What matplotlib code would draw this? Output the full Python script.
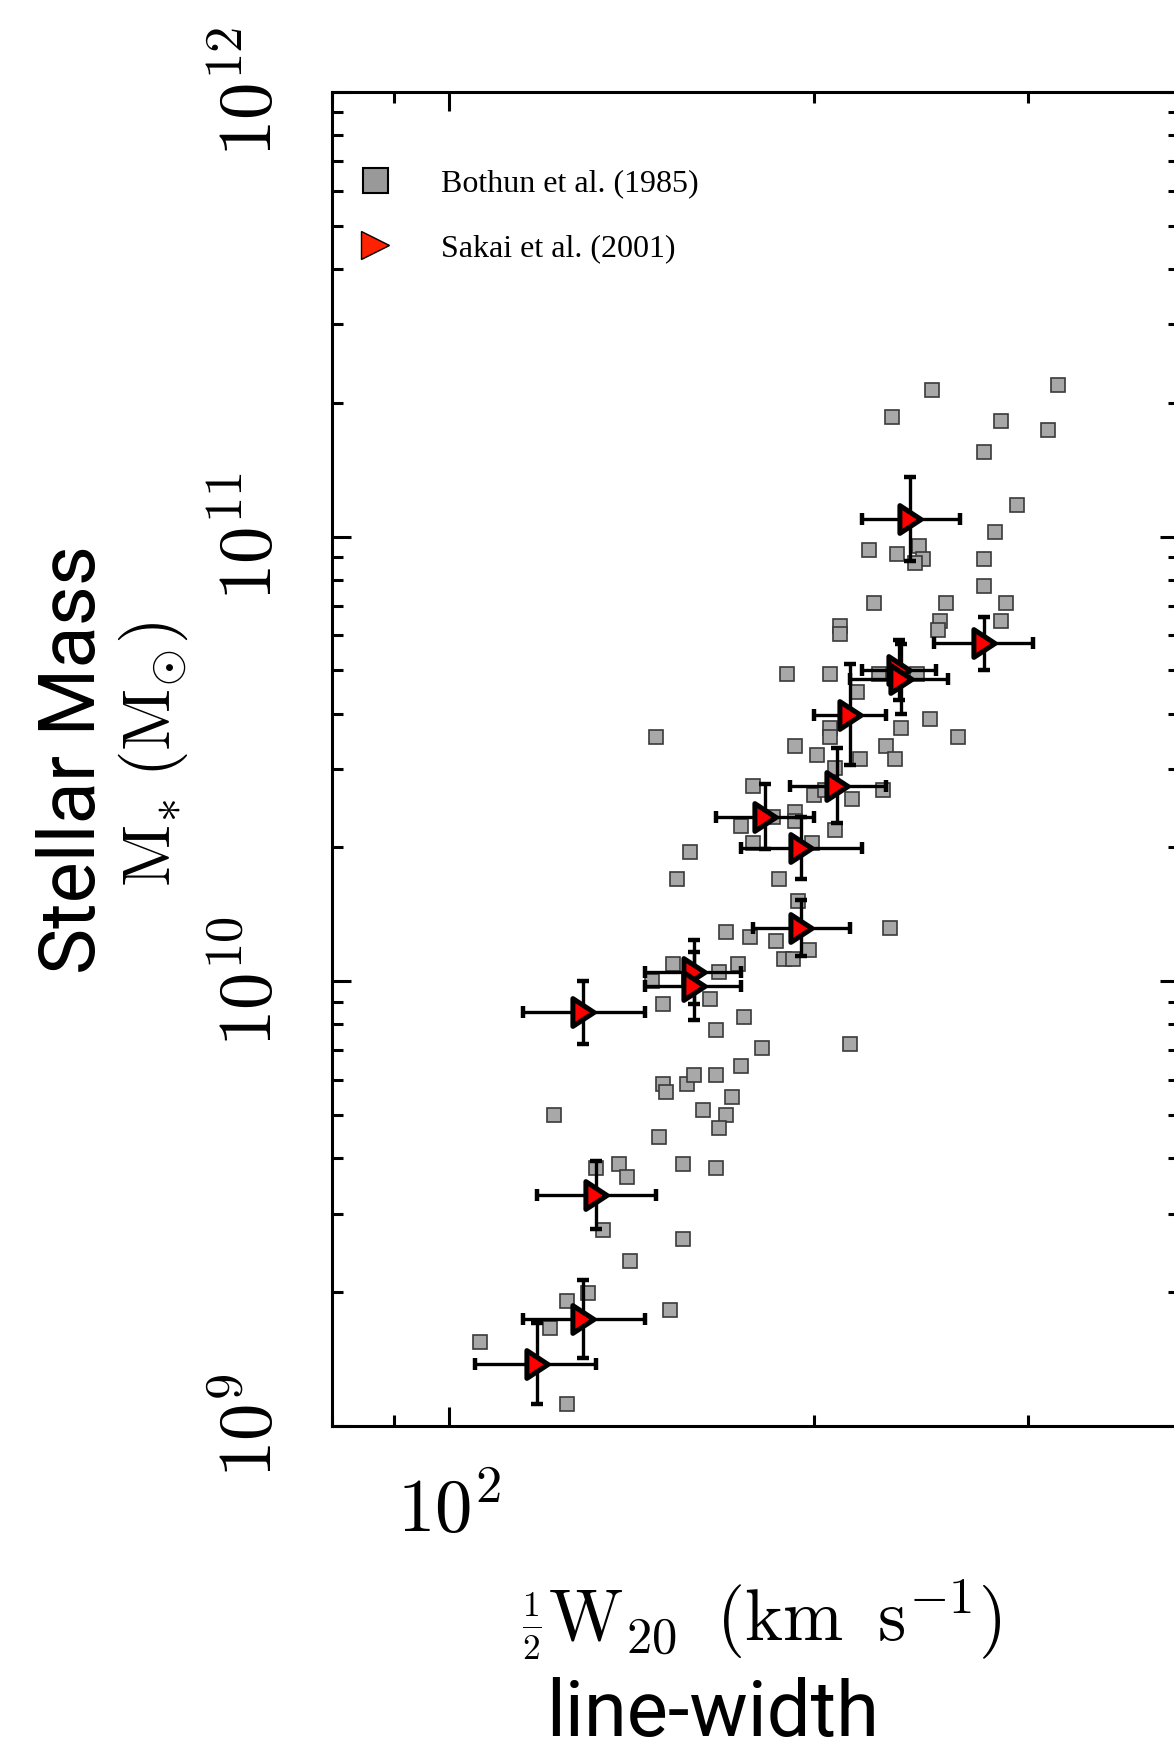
import numpy as np
import matplotlib
matplotlib.use("Agg")
import matplotlib.pyplot as plt
from matplotlib.lines import Line2D
from matplotlib.markers import MarkerStyle
from matplotlib.path import Path
from matplotlib.ticker import LogLocator, NullFormatter

plt.rcParams["mathtext.fontset"] = "cm"

# Bothun et al. (1985): half line-width W20/2 (km/s) and log10 stellar mass (Msun)
bothun_w = [250, 318, 232, 285, 312, 276, 294, 282, 222, 234, 244, 246, 242, 276, 276,
            224, 257, 288, 254, 285, 210, 210, 253, 190, 206, 226, 243, 217, 249,
            206, 206, 236, 263, 193, 201, 229, 233, 218, 208, 200, 204, 215, 228, 193,
            193, 185, 208, 199, 187, 194, 186, 198, 189, 192, 231, 214,
            148, 178, 174, 178, 158, 154, 169, 177, 173, 153, 167, 147, 164, 150, 175,
            166, 181, 174,
            150, 151, 157, 159, 166, 171, 162, 169, 167, 122, 149, 138, 140, 132, 156,
            166, 134, 156, 141, 130, 125, 152, 121, 106, 125]
bothun_logm = [11.33, 11.34, 11.27, 11.26, 11.24, 11.19, 11.07, 11.01, 10.97, 10.96, 10.98,
               10.95, 10.94, 10.95, 10.89, 10.85, 10.85, 10.85, 10.81, 10.81, 10.80, 10.78,
               10.79, 10.69, 10.69, 10.69, 10.69, 10.65, 10.59,
               10.57, 10.55, 10.57, 10.55, 10.53, 10.51, 10.53, 10.50, 10.50, 10.48, 10.42,
               10.43, 10.41, 10.43, 10.38, 10.36, 10.37, 10.34, 10.31, 10.23, 10.18, 10.09,
               10.07, 10.05, 10.05, 10.12, 9.86,
               10.55, 10.44, 10.35, 10.31, 10.29, 10.23, 10.11, 10.10, 10.04, 10.04, 10.02,
               10.00, 9.96, 9.95, 9.92, 9.89, 9.85, 9.81,
               9.77, 9.75, 9.77, 9.79, 9.79, 9.74, 9.71, 9.70, 9.67, 9.70, 9.65, 9.59, 9.56,
               9.58, 9.59, 9.58, 9.44, 9.42, 9.37, 9.30, 9.28, 9.26, 9.22, 9.19, 9.05]

# Sakai et al. (2001): line-width with error range, log stellar mass with +/- error
sakai_w = [240, 276, 235, 236, 214, 209, 182, 195, 195, 159, 159, 129, 132, 129, 118]
sakai_w_lo = [219, 251, 219, 214, 200, 191, 166, 174, 178, 145, 145, 115, 118, 115, 105]
sakai_w_hi = [264, 303, 252, 258, 229, 229, 200, 219, 214, 174, 174, 145, 148, 145, 132]
sakai_logm = [11.04, 10.76, 10.70, 10.68, 10.60, 10.44, 10.37, 10.30, 10.12, 10.02, 9.99,
              9.93, 9.52, 9.24, 9.14]
sakai_dlogm = [0.095, 0.060, 0.068, 0.078, 0.113, 0.084, 0.073, 0.070, 0.062, 0.072, 0.077,
               0.071, 0.077, 0.088, 0.091]

y_ticks = [1e9, 1e10, 1e11, 1e12]
y_ticklabels = [r"$10^{9}$", r"$10^{10}$", r"$10^{11}$", r"$10^{12}$"]
x_ticks = [100]
x_ticklabels = [r"$10^{2}$"]

fig = plt.figure(figsize=(11.74, 17.51), dpi=100)
ax = fig.add_axes([0.2828, 0.1856, 0.7215, 0.7619])
ax.set_xscale("log")
ax.set_yscale("log")
ax.set_xlim(80, 400)
ax.set_ylim(1e9, 1e12)

bm = 10 ** np.asarray(bothun_logm)
ax.plot(bothun_w, bm, ls="none", marker="s", ms=9.4, mfc="#a8a8a8", mec="#3a3a3a",
        mew=1.2, zorder=2)

sw = np.asarray(sakai_w, float)
sm = 10 ** np.asarray(sakai_logm)
sd = np.asarray(sakai_dlogm)
xerr = [sw - np.asarray(sakai_w_lo), np.asarray(sakai_w_hi) - sw]
yerr = [sm - 10 ** (np.asarray(sakai_logm) - sd), 10 ** (np.asarray(sakai_logm) + sd) - sm]
ax.errorbar(sw, sm, xerr=xerr, yerr=yerr, fmt="none", ecolor="black", elinewidth=2.4,
            capsize=4, capthick=3.2, zorder=3)
# slightly tall right-pointing triangle with rounded thick outline
tri_path = Path([(-0.42, -0.55), (0.42, 0.0), (-0.42, 0.55), (-0.42, -0.55)], closed=True)
tri = MarkerStyle(tri_path, joinstyle="round")
ax.plot(sw, sm, ls="none", marker=tri, ms=20, mfc="#ff0000", mec="black", mew=3.6, zorder=4)

# axes frame and ticks
for sp in ax.spines.values():
    sp.set_linewidth(2.2)
ax.yaxis.set_minor_locator(LogLocator(base=10, subs=np.arange(2, 10)))
ax.xaxis.set_minor_locator(LogLocator(base=10, subs=np.arange(2, 10)))
ax.xaxis.set_minor_formatter(NullFormatter())
ax.yaxis.set_minor_formatter(NullFormatter())
ax.set_yticks(y_ticks, y_ticklabels, rotation=90, va="center", fontsize=54)
ax.set_xticks(x_ticks, x_ticklabels, fontsize=54)
ax.tick_params(which="both", direction="in", top=True, right=True, width=2.2)
ax.tick_params(which="major", length=14)
ax.tick_params(which="minor", length=8)
ax.tick_params(axis="y", pad=32)
ax.tick_params(axis="x", pad=35)

# axis labels
ax.set_xlabel(r"$\genfrac{}{}{1.5}{2}{1}{2}\mathrm{W}_{20}\;\;(\mathrm{km}\;\;\mathrm{s}^{-1})$",
              fontsize=52, va="center")
ax.xaxis.set_label_coords(0.508, -0.1454)
ax.set_ylabel(r"$\mathrm{M}_{*}\;(\mathrm{M}_{\odot})$", fontsize=49, va="center",
              rotation=90)
ax.yaxis.set_label_coords(-0.2113, 0.5037)
fig.text(0.607, 0.0206, "line-width", fontsize=56, family="Roboto",
         ha="center", va="center")
fig.text(0.0622, 0.566, "Stellar Mass", fontsize=56, family="Roboto",
         rotation=90, ha="center", va="center")

# legend
handles = [
    Line2D([], [], ls="none", marker="s", ms=18, mfc="#999999", mec="black", mew=1.5),
    Line2D([], [], ls="none", marker=">", ms=20, mfc="#ff2200", mec="black", mew=1.0),
]
ax.legend(handles, ["Bothun et al. (1985)", "Sakai et al. (2001)"], loc="upper left",
          bbox_to_anchor=(0.032, 0.942), frameon=False, borderpad=0, borderaxespad=0,
          handlelength=1.0, handletextpad=1.55, labelspacing=1.1,
          prop={"family": "Liberation Serif", "size": 23})

fig.savefig("out.png", dpi=100)
